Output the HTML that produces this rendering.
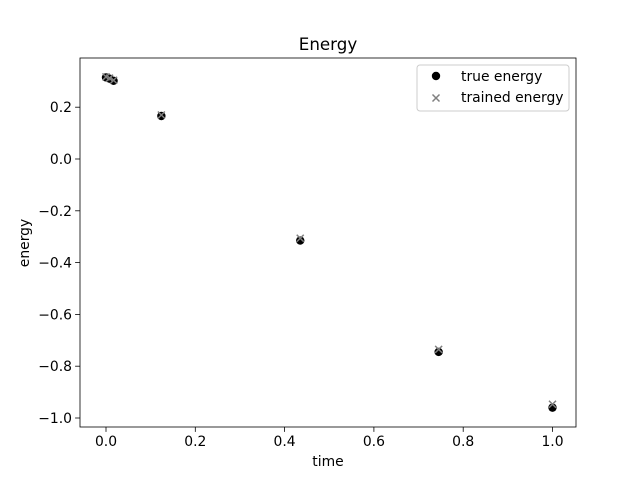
<!DOCTYPE html>
<html><head><meta charset="utf-8"><style>
body{margin:0;background:#fff}
svg{display:block;font-family:"DejaVu Sans","Liberation Sans",sans-serif}
</style></head><body>
<svg id="c" width="640" height="480" viewBox="0 0 640 480"></svg>
<script>
const times=[0,0.008,0.017,0.124,0.435,0.745,1.0];
const trueEnergy=[0.315,0.31,0.302,0.166,-0.315,-0.745,-0.96];
const trainedEnergy=[0.317,0.312,0.304,0.17,-0.306,-0.735,-0.947];
const xTicks=[0.0,0.2,0.4,0.6,0.8,1.0];
const yTicks=[0.2,0.0,-0.2,-0.4,-0.6,-0.8,-1.0];
const L=80,R=576,T=58,B=427;
const X0=106,XS=446.5,Y0=159,YS=259;
const sx=v=>X0+v*XS, sy=v=>Y0-v*YS;
const NS="http://www.w3.org/2000/svg";
const svg=document.getElementById('c');
function mk(t,a,p){const e=document.createElementNS(NS,t);for(const k in a)e.setAttribute(k,a[k]);(p||svg).appendChild(e);return e;}
let e;
e=mk('text',{x:328,y:50,'text-anchor':'middle','font-size':16.7});e.textContent='Energy';


const gx=mk('g',{});


xTicks.forEach(v=>{const x=sx(v);mk('line',{x1:x,x2:x,y1:B,y2:B+4.9,stroke:'#000','stroke-width':0.8},gx);
const t=mk('text',{x:x,y:B+19,'text-anchor':'middle','font-size':13.9},gx);t.textContent=v.toFixed(1);});
e=mk('text',{x:328,y:466,'text-anchor':'middle','font-size':13.9});e.textContent='time';


const gy=mk('g',{});


yTicks.forEach(v=>{const y=sy(v);mk('line',{x1:L-4.9,x2:L,y1:y,y2:y,stroke:'#000','stroke-width':0.8},gy);
const t=mk('text',{x:L-8,y:y+5,'text-anchor':'end','font-size':13.9},gy);t.textContent=v.toFixed(1).replace('-','\u2212');});
e=mk('text',{x:29,y:243,'text-anchor':'middle','font-size':13.9,transform:'rotate(-90 29 243)'});e.textContent='energy';


const gt=mk('g',{});


times.forEach((t,i)=>{const c=mk('circle',{cx:sx(t),cy:sy(trueEnergy[i]),r:4.2,fill:'#000'},gt);

});
const gr=mk('g',{});


times.forEach((t,i)=>{const x=sx(t),y=sy(trainedEnergy[i]);
const p=mk('path',{d:`M${x-3.5} ${y-3.5}L${x+3.5} ${y+3.5}M${x-3.5} ${y+3.5}L${x+3.5} ${y-3.5}`,stroke:'#808080','stroke-width':1.5},gr);

});
e=mk('rect',{x:L,y:T,width:R-L,height:B-T,fill:'none',stroke:'#000','stroke-width':0.8});


const lg=mk('g',{});


mk('rect',{x:417,y:65,width:152,height:46,rx:3,fill:'#fff',stroke:'#ccc','stroke-width':1},lg);
mk('circle',{cx:436,cy:76,r:4.2,fill:'#000'},lg);
e=mk('text',{x:461,y:81,'font-size':13.9},lg);e.textContent='true energy';


mk('path',{d:'M432.5 94.5L439.5 101.5M432.5 101.5L439.5 94.5',stroke:'#808080','stroke-width':1.5},lg);
e=mk('text',{x:461,y:102,'font-size':13.9},lg);e.textContent='trained energy';


</script>
</body></html>
